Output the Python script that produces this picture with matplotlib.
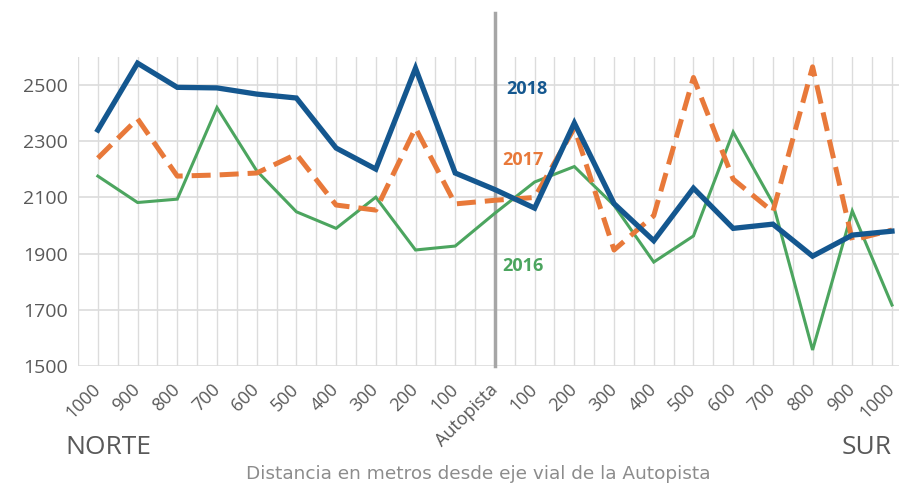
import matplotlib
matplotlib.use("Agg")
import matplotlib.pyplot as plt
import numpy as np

categories = ["1000", "900", "800", "700", "600", "500", "400", "300", "200", "100",
              "Autopista",
              "100", "200", "300", "400", "500", "600", "700", "800", "900", "1000"]

s2018 = [2340, 2578, 2492, 2490, 2468, 2454, 2276, 2201, 2560, 2187,
         2128, 2062, 2365, 2078, 1946, 2133, 1990, 2005, 1891, 1966, 1980]
s2017 = [2240, 2380, 2176, 2180, 2187, 2254, 2073, 2055, 2347, 2077,
         2090, 2100, 2347, 1913, 2035, 2527, 2165, 2049, 2565, 1948, 1984]
s2016 = [2176, 2082, 2094, 2420, 2195, 2049, 1990, 2101, 1913, 1927,
         2044, 2155, 2210, 2072, 1870, 1963, 2333, 2080, 1557, 2052, 1717]

yticks = [1500, 1700, 1900, 2100, 2300, 2500]

c2018 = "#14578F"
c2017 = "#E8793A"
c2016 = "#4CA55F"
tick_col = "#595959"

plt.rcParams['font.family'] = ['Open Sans', 'DejaVu Sans']

fig = plt.figure(figsize=(8.99, 4.86), dpi=100)
ax = fig.add_axes([78/899, 120/486, (899-78)/899, 309/486])

x = np.arange(len(categories))
ax.set_xlim(-0.5, (899-98)/39.7)
ax.set_ylim(1500, 2600)

# grid
for gx in np.arange(-0.5, 21, 0.5):
    ax.axvline(gx, color="#dcdcdc", lw=1, zorder=0)
for gy in yticks:
    ax.axhline(gy, color="#dcdcdc", lw=1.2, zorder=0)

ax.axvline(10, ymin=0, ymax=353/309, color="#a6a6a6", lw=2.5, zorder=1, clip_on=False)

ax.plot(x, s2016, color=c2016, lw=2.2, zorder=3, solid_joinstyle='miter')
ax.plot(x, s2017, color=c2017, lw=3.6, ls=(0, (3.8, 1.8)), zorder=4)
ax.plot(x, s2018, color=c2018, lw=3.8, zorder=5, solid_joinstyle='miter')

for s in ax.spines.values():
    s.set_visible(False)
ax.tick_params(length=0)
ax.set_yticks(yticks)
ax.set_yticklabels([str(v) for v in yticks], fontsize=14, color=tick_col)
ax.tick_params(axis='y', pad=7)
ax.set_xticks(x)
ax.set_xticklabels(categories, rotation=45, ha='right', va='center',
                   rotation_mode='anchor', fontsize=13, color=tick_col)
ax.tick_params(axis='x', pad=15)

ax.text(10.28, 2485, "2018", color=c2018, fontsize=13, fontweight='bold', va='center')
ax.text(10.18, 2232, "2017", color=c2017, fontsize=13, fontweight='bold', va='center')
ax.text(10.18, 1855, "2016", color=c2016, fontsize=13, fontweight='bold', va='center')

fig.text(65/899, 1-447/486, "NORTE", fontsize=19, color=tick_col, va='center', ha='left')
fig.text(892/899, 1-447/486, "SUR", fontsize=19, color=tick_col, va='center', ha='right')
fig.text(478/899, 1-474/486, "Distancia en metros desde eje vial de la Autopista",
         fontsize=13.3, color="#8c8c8c", va='center', ha='center', family='DejaVu Sans')

fig.savefig("out.png", dpi=100)
